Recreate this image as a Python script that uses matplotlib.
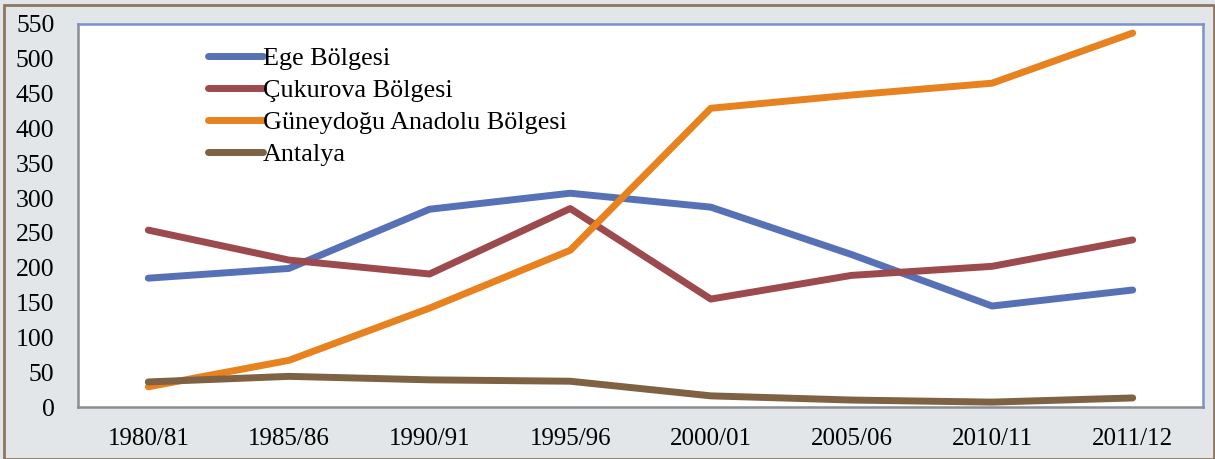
import matplotlib
matplotlib.use("Agg")
import matplotlib.pyplot as plt
from matplotlib.patches import Rectangle

# 數據
seasons = ['1980/81', '1985/86', '1990/91', '1995/96', '2000/01', '2005/06', '2010/11', '2011/12']
ege = [185, 199, 284, 307, 287, 219, 145, 168]
cukurova = [254, 211, 191, 285, 155, 189, 202, 240]
gap = [29, 67, 142, 225, 429, 448, 465, 537]
antalya = [36, 44, 39, 37, 16, 10, 7, 13]

series = [
    ('Ege Bölgesi', ege, '#5671B6'),
    ('Çukurova Bölgesi', cukurova, '#9C4A4D'),
    ('Güneydoğu Anadolu Bölgesi', gap, '#E8821E'),
    ('Antalya', antalya, '#7F6143'),
]

plt.rcParams['font.family'] = ['Liberation Serif', 'DejaVu Serif']

fig = plt.figure(figsize=(12.15, 4.59), dpi=100)
fig.patch.set_facecolor('#E3E6E8')
ax = fig.add_axes([78 / 1215, 1 - 407 / 459, 1125 / 1215, 383 / 459])
ax.set_facecolor('white')

x = list(range(len(seasons)))
for name, vals, col in series:
    ax.plot(x, vals, color=col, lw=5, solid_capstyle='round', solid_joinstyle='round', label=name)

ax.set_xlim(-0.5, len(seasons) - 0.5)
ax.set_ylim(0, 550)
ax.set_yticks(range(0, 551, 50))
ax.set_xticks(x)
ax.set_xticklabels(seasons)
ax.tick_params(axis='both', length=0, colors='black')
ax.tick_params(axis='x', pad=15, labelsize=18)
ax.tick_params(axis='y', pad=17, labelsize=18.5)

ax.spines['left'].set_color('#8A8D92')
ax.spines['bottom'].set_color('#8A8D92')
ax.spines['top'].set_color('#7C90CA')
ax.spines['right'].set_color('#7C90CA')
for s in ax.spines.values():
    s.set_linewidth(1.8)

leg = ax.legend(loc='upper left', bbox_to_anchor=(0.106, 0.967), frameon=False,
                fontsize=18.8, handlelength=2.1, handletextpad=0.0,
                labelspacing=0.33, borderaxespad=0)

# 外框
fig.patches.append(Rectangle((4 / 1215, 0), 1 - 5 / 1215, 1 - 5 / 459,
                             transform=fig.transFigure, fill=False,
                             edgecolor='#8C7762', lw=2))

plt.savefig('out.png', dpi=100, facecolor=fig.get_facecolor())
